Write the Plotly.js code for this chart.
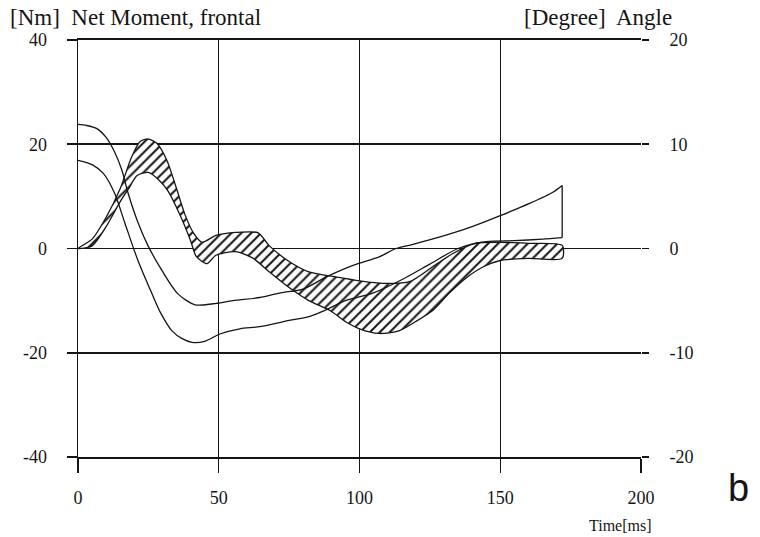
<!DOCTYPE html>
<html>
<head>
<meta charset="utf-8">
<script src="https://cdn.plot.ly/plotly-3.0.1.min.js"></script>
<style>
  html, body { margin: 0; padding: 0; background: #fff; }
  #chart { width: 760px; height: 537px; }
</style>
</head>
<body>
<div id="chart"></div>
<script>
// ---- Data ----
// Hatched corridor: net frontal moment [Nm], left axis
const bandUpperX = [0, 5, 10, 15, 19, 22, 25, 28, 31.6, 35, 38, 41, 44, 49, 56, 64, 68, 75, 82, 92, 100, 110, 118, 126, 133, 141, 150, 160, 172];
const bandUpperY = [0, 1.8, 6, 11.5, 17.5, 20.5, 21, 20.2, 16.9, 11.5, 6.5, 3, 1.2, 2.5, 3.1, 3.0, 0.5, -2.5, -4.5, -5.5, -6.2, -6.7, -6.3, -3.5, -1, 1.0, 1.2, 1.0, 0.6];
const bandLowerX = [0, 5, 10, 15, 18, 21, 25, 29, 32, 36, 40, 42, 45.8, 49, 56, 62, 68, 75, 82, 89.5, 95.5, 100, 107, 114, 120, 126, 132, 138, 144, 150, 160, 172];
const bandLowerY = [0, 0.5, 4.2, 9, 11.5, 14, 14.6, 13, 11, 6.7, 1.5, -1.5, -2.9, -1.3, -0.6, -1.8, -4.5, -7.5, -10, -11.9, -14.2, -15.4, -16.3, -15.8, -14, -11.9, -8.5, -5.6, -3.5, -2.3, -1.9, -1.9];

// Thin curves: angle [Degree], right axis
const angleAX = [0, 3, 6.7, 10, 13, 15.6, 17.8, 21.3, 24.9, 29.8, 35.5, 41.6, 48, 55, 64.6, 72, 80, 88, 95, 100, 107, 113, 119, 131, 140, 150, 160.6, 168.7, 172];
const angleAY = [11.9, 11.8, 11.5, 10.65, 9.25, 7.5, 5.3, 2.5, 0.25, -2.1, -4.35, -5.4, -5.3, -5, -4.7, -4.25, -3.9, -2.75, -1.9, -1.4, -0.8, 0, 0.4, 1.3, 2.1, 3.15, 4.35, 5.4, 6.05];
const angleBX = [0, 5.3, 9, 13, 16.7, 21.3, 26.3, 29.5, 33.4, 37, 40.5, 45, 50.4, 57.5, 64.6, 75, 82.4, 88, 95, 105, 115, 125, 135, 145, 155, 165, 172];
const angleBY = [8.45, 8, 7.2, 5.3, 2.4, -1.15, -4.35, -6.25, -7.9, -8.65, -9, -8.9, -8.2, -7.7, -7.5, -6.9, -6.5, -5.9, -5, -4.25, -3, -1.5, 0, 0.65, 0.75, 0.9, 1.05];

// Tick values / labels
const xTicks = [0, 50, 100, 150, 200];
const yLeftTicks = [-40, -20, 0, 20, 40];
const yLeftLabels = ["-40", "-20", "0", "20", "40"];
const yRightTicks = [-20, -10, 0, 10, 20];
const yRightLabels = ["-20", "-10", "0", "10", "20"];

// ---- Build traces ----
const bandX = bandUpperX.concat(bandLowerX.slice().reverse());
const bandY = bandUpperY.concat(bandLowerY.slice().reverse());

const ink = '#151515';
const serif = 'Liberation Serif, Times New Roman, serif';

const traces = [
  {
    x: bandX, y: bandY, type: 'scatter', mode: 'lines',
    fill: 'toself', fillcolor: 'white',
    fillpattern: { shape: '/', size: 7, solidity: 0.28, fgcolor: ink, bgcolor: 'white' },
    line: { color: ink, width: 1.3, shape: 'spline', smoothing: 0.7 },
    hoverinfo: 'skip', showlegend: false
  },
  {
    x: angleAX, y: angleAY, yaxis: 'y2', type: 'scatter', mode: 'lines',
    line: { color: ink, width: 1.3, shape: 'spline', smoothing: 0.8 },
    showlegend: false
  },
  {
    x: angleBX, y: angleBY, yaxis: 'y2', type: 'scatter', mode: 'lines',
    line: { color: ink, width: 1.3, shape: 'spline', smoothing: 0.8 },
    showlegend: false
  },
  {
    x: [angleAX[angleAX.length - 1], angleBX[angleBX.length - 1]],
    y: [angleAY[angleAY.length - 1], angleBY[angleBY.length - 1]],
    yaxis: 'y2', type: 'scatter', mode: 'lines',
    line: { color: ink, width: 1.3 },
    showlegend: false
  }
];

const layout = {
  width: 760, height: 537,
  margin: { l: 78, r: 119, t: 40, b: 80 },
  paper_bgcolor: 'white', plot_bgcolor: 'white',
  showlegend: false,
  font: { family: serif, size: 18, color: ink },
  xaxis: {
    range: [0, 200], tickvals: xTicks, ticktext: xTicks.map(String),
    showgrid: true, gridcolor: ink, gridwidth: 1.4,
    zeroline: false, showline: true, linecolor: ink, linewidth: 1.6, mirror: true,
    ticks: 'outside', ticklen: 14, tickwidth: 1.4, tickcolor: ink,
    ticklabelstandoff: 10,
    tickfont: { family: serif, size: 18, color: ink }
  },
  yaxis: {
    range: [-40, 40], tickvals: yLeftTicks, ticktext: yLeftLabels,
    showgrid: true, gridcolor: ink, gridwidth: 1.6,
    zeroline: false, showline: true, linecolor: ink, linewidth: 1.4,
    ticks: 'outside', ticklen: 10, tickwidth: 1.6, tickcolor: ink,
    ticklabelstandoff: 16,
    tickfont: { family: serif, size: 18, color: ink }
  },
  yaxis2: {
    range: [-20, 20], overlaying: 'y', side: 'right',
    tickvals: yRightTicks, ticktext: yRightLabels,
    showgrid: false, zeroline: false, showline: false,
    ticks: 'outside', ticklen: 7, tickwidth: 1.6, tickcolor: ink,
    ticklabelstandoff: 17,
    tickfont: { family: serif, size: 18, color: ink }
  },
  annotations: [
    { text: '[Nm]  Net Moment, frontal', xref: 'paper', yref: 'paper',
      x: -0.124, y: 1.053, xanchor: 'left', yanchor: 'middle', showarrow: false,
      font: { family: serif, size: 23, color: ink } },
    { text: '[Degree]  Angle', xref: 'paper', yref: 'paper',
      x: 0.789, y: 1.053, xanchor: 'left', yanchor: 'middle', showarrow: false,
      font: { family: serif, size: 23, color: ink } },
    { text: 'Time[ms]', xref: 'paper', yref: 'paper',
      x: 0.963, y: -0.165, xanchor: 'center', yanchor: 'middle', showarrow: false,
      font: { family: serif, size: 16, color: ink } },
    { text: 'b', xref: 'paper', yref: 'paper',
      x: 1.174, y: -0.074, xanchor: 'center', yanchor: 'middle', showarrow: false,
      font: { family: 'Liberation Sans, Arial, sans-serif', size: 38, color: ink } }
  ]
};

Plotly.newPlot('chart', traces, layout, { displayModeBar: false, staticPlot: true });
</script>
</body>
</html>
